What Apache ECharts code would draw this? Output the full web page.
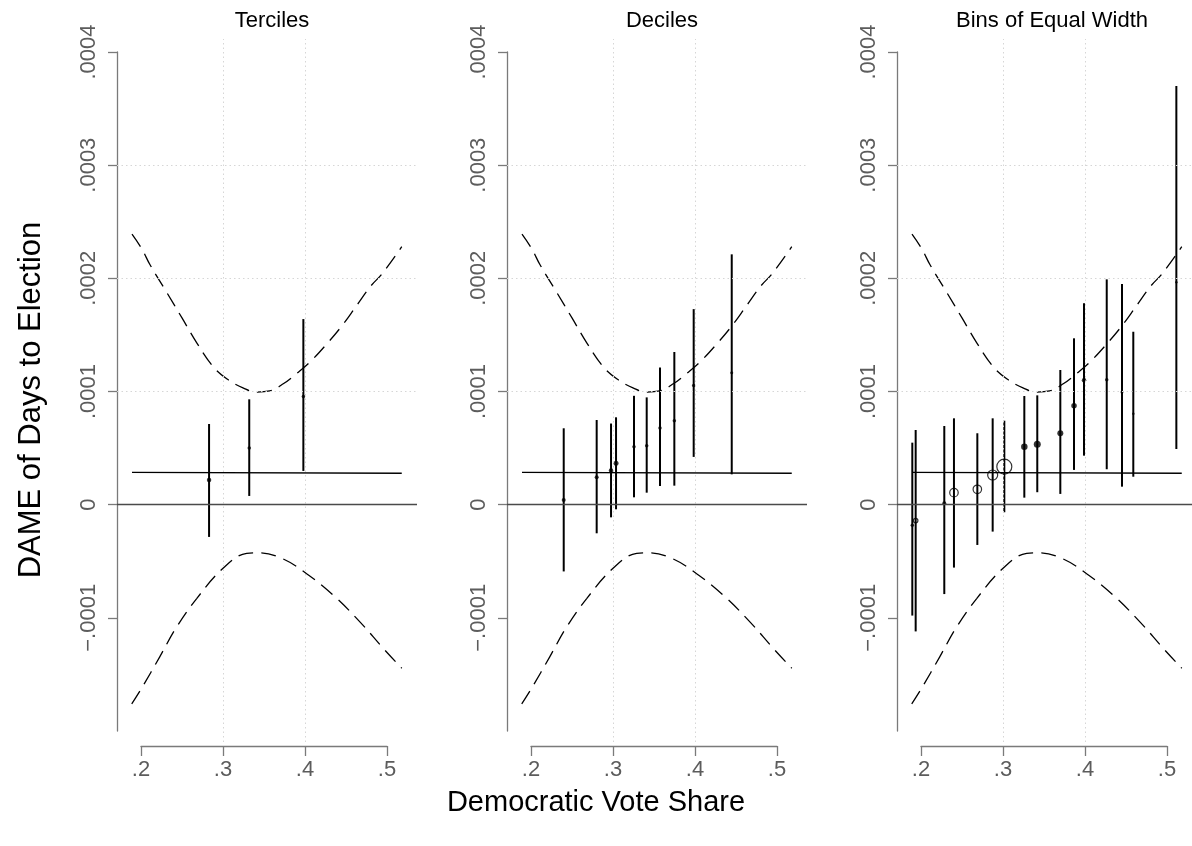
<!DOCTYPE html>
<html>
<head>
<meta charset="utf-8">
<title>DAME of Days to Election</title>
<style>
  html, body { margin: 0; padding: 0; background: #fff; }
  #main { width: 1192px; height: 846px; }
</style>
<script src="https://cdn.jsdelivr.net/npm/echarts@6/dist/echarts.min.js"></script>
</head>
<body>
<div id="main"></div>
<script>
// all effect values are in units of 0.0001 (the tick labels show the real scale)

const panelTitles = ['Terciles', 'Deciles', 'Bins of Equal Width'];
const xTicks = [0.2, 0.3, 0.4, 0.5];
const xTickLabels = ['.2', '.3', '.4', '.5'];
const yTicks = [-1, 0, 1, 2, 3, 4];
const yTickLabels = ['\u2212.0001', '0', '.0001', '.0002', '.0003', '.0004'];
const xGrid = [0.3, 0.4];
const yGrid = [1, 2, 3];

// linear marginal effect (solid) and its 95% band (dashed)
const fitX = [0.189, 0.518];
const fitY = [0.285, 0.277];
const upperX = [0.189, 0.201, 0.211, 0.231, 0.250, 0.268, 0.288, 0.305, 0.325, 0.341, 0.357, 0.374, 0.390, 0.406, 0.4265, 0.445, 0.463, 0.480, 0.494, 0.518];
const upperY = [2.39, 2.26, 2.12, 1.88, 1.65, 1.43, 1.22, 1.11, 1.03, 0.995, 1.005, 1.07, 1.16, 1.26, 1.42, 1.58, 1.76, 1.93, 2.04, 2.28];
const lowerX = [0.1887, 0.2009, 0.2232, 0.2435, 0.2679, 0.3004, 0.3289, 0.343, 0.3716, 0.402, 0.4345, 0.4675, 0.4955, 0.518];
const lowerY = [-1.76, -1.62, -1.34, -1.08, -0.83, -0.56, -0.43, -0.425, -0.474, -0.61, -0.80, -1.04, -1.27, -1.445];

// binned estimates
const tercX  = [0.283, 0.332, 0.398];
const tercPt = [0.218, 0.501, 0.955];
const tercLo = [-0.285, 0.077, 0.298];
const tercHi = [0.713, 0.931, 1.64];

const decX  = [0.2399, 0.2801, 0.2976, 0.3037, 0.3256, 0.3411, 0.3573, 0.3748, 0.3984, 0.4448];
const decPt = [0.042, 0.242, 0.301, 0.366, 0.512, 0.521, 0.678, 0.742, 1.053, 1.166];
const decLo = [-0.59, -0.253, -0.112, -0.041, 0.065, 0.106, 0.165, 0.168, 0.422, 0.268];
const decHi = [0.675, 0.748, 0.717, 0.772, 0.962, 0.948, 1.212, 1.349, 1.728, 2.212];

const binX  = [0.1894, 0.1935, 0.2284, 0.2402, 0.2687, 0.2874, 0.3016, 0.326, 0.3418, 0.3699, 0.3866, 0.3988, 0.4265, 0.4451, 0.4589, 0.5114];
const binPt = [-0.182, -0.141, 0.012, 0.106, 0.136, 0.262, 0.336, 0.512, 0.534, 0.631, 0.875, 1.099, 1.104, 0.996, 0.804, 1.965];
const binLo = [-0.98, -1.12, -0.79, -0.556, -0.356, -0.238, -0.067, 0.062, 0.110, 0.095, 0.307, 0.433, 0.313, 0.159, 0.247, 0.492];
const binHi = [0.548, 0.660, 0.695, 0.763, 0.631, 0.763, 0.742, 0.960, 0.966, 1.190, 1.470, 1.78, 1.991, 1.950, 1.528, 3.699];

// marker look per point
const tercMarkerSize = [4.5, 3.5, 3.5];
const decMarkerSize  = [4, 4, 4.5, 5, 3.5, 3.5, 3.5, 3.5, 3.5, 3];
const binMarkerSize  = [3.5, 4.5, 4, 8.5, 8.5, 10, 15, 6.5, 7, 6, 5.5, 4.5, 3.5, 3, 2.5, 2.5];
const binHollow      = [false, true, false, true, true, true, true, false, false, false, false, false, false, false, false, false];

// ---- layout (pixels) ----
const FONT = 'Liberation Sans, Arial, Helvetica, sans-serif';
const PANEL_DX = 390;
const PLOT_LEFT = 117, PLOT_W = 300, PLOT_TOP = 39, PLOT_BOTTOM = 742;
const X02 = 141, X05 = 387;          // where .2 and .5 sit
const Y_TOP = 52, Y_BOTTOM = 731;    // where .0004 and -.0002 sit
const X_AXIS_Y = 746;

const pxPerX = (X05 - X02) / 0.3;
const pxPerY = (Y_BOTTOM - Y_TOP) / 6;
const dataXMin = 0.2 - (X02 - PLOT_LEFT) / pxPerX;
const dataXMax = dataXMin + PLOT_W / pxPerX;
const dataYMax = 4 + (Y_TOP - PLOT_TOP) / pxPerY;
const dataYMin = -2 - (PLOT_BOTTOM - Y_BOTTOM) / pxPerY;

const AXIS_GRAY = '#7a7a7a';
const LABEL_GRAY = '#5c5c5c';

const panels = [
  {x: tercX, pt: tercPt, lo: tercLo, hi: tercHi, size: tercMarkerSize, hollow: tercX.map(() => false)},
  {x: decX, pt: decPt, lo: decLo, hi: decHi, size: decMarkerSize, hollow: decX.map(() => false)},
  {x: binX, pt: binPt, lo: binLo, hi: binHi, size: binMarkerSize, hollow: binHollow}
];

const zip = (a, b) => a.map((v, i) => [v, b[i]]);

const grid = [], xAxis = [], yAxis = [], series = [], title = [];

panels.forEach((p, k) => {
  const dx = k * PANEL_DX;
  const g0 = k * 3;   // data grid, x-axis grid, y-axis grid

  // data area
  grid.push({left: PLOT_LEFT + dx, top: PLOT_TOP, width: PLOT_W, height: PLOT_BOTTOM - PLOT_TOP, outerBoundsMode: 'none'});
  xAxis.push({gridIndex: g0, type: 'value', min: dataXMin, max: dataXMax, show: false});
  yAxis.push({gridIndex: g0, type: 'value', min: dataYMin, max: dataYMax, show: false});

  // bottom axis, drawn only from .2 to .5 like the original
  grid.push({left: X02 + dx, width: X05 - X02, top: X_AXIS_Y - 10, height: 10, outerBoundsMode: 'none'});
  xAxis.push({
    gridIndex: g0 + 1, type: 'value', min: 0.2, max: 0.5, interval: 0.1,
    axisLine: {show: true, lineStyle: {color: AXIS_GRAY, width: 1.3}},
    axisTick: {show: true, length: 10, lineStyle: {color: AXIS_GRAY, width: 1.3}},
    axisLabel: {
      margin: 13, color: LABEL_GRAY, fontSize: 22, fontFamily: FONT,
      formatter: v => xTickLabels[xTicks.findIndex(t => Math.abs(t - v) < 1e-6)] || ''
    },
    splitLine: {show: false}
  });
  yAxis.push({gridIndex: g0 + 1, type: 'value', show: false});

  // left axis, from -.0002 to .0004
  grid.push({left: PLOT_LEFT + dx, width: 10, top: Y_TOP, height: Y_BOTTOM - Y_TOP, outerBoundsMode: 'none'});
  xAxis.push({gridIndex: g0 + 2, type: 'value', show: false});
  yAxis.push({
    gridIndex: g0 + 2, type: 'value', min: -2, max: 4, interval: 1,
    axisLine: {show: true, lineStyle: {color: AXIS_GRAY, width: 1.3}},
    axisTick: {show: true, length: 9, customValues: yTicks, lineStyle: {color: AXIS_GRAY, width: 1.3}},
    axisLabel: {
      customValues: yTicks, rotate: 90, margin: 17, color: LABEL_GRAY, fontSize: 22, fontFamily: FONT,
      formatter: v => yTickLabels[yTicks.indexOf(Math.round(v))] || ''
    },
    splitLine: {show: false}
  });

  title.push({
    text: panelTitles[k], left: PLOT_LEFT + dx + PLOT_W / 2, top: 5, textAlign: 'center',
    textStyle: {fontSize: 22, fontWeight: 'normal', color: '#000', fontFamily: FONT}
  });

  // gridlines + zero line
  series.push({
    type: 'line', xAxisIndex: g0, yAxisIndex: g0, data: [], silent: true, z: 1,
    markLine: {
      silent: true, symbol: 'none', label: {show: false}, animation: false,
      lineStyle: {color: '#d6d6d6', width: 1, type: [1.5, 3]},
      data: xGrid.map(v => ({xAxis: v})).concat(yGrid.map(v => ({yAxis: v})))
        .concat([{yAxis: 0, lineStyle: {color: '#4a4a4a', width: 1.4, type: 'solid'}}])
    }
  });

  // confidence band
  [zip(upperX, upperY), zip(lowerX, lowerY)].forEach(d => {
    series.push({
      type: 'line', xAxisIndex: g0, yAxisIndex: g0, data: d, smooth: 0.4,
      showSymbol: false, silent: true, z: 2,
      lineStyle: {color: '#000', width: 1.3, type: [15, 8]}
    });
  });

  // fitted effect
  series.push({
    type: 'line', xAxisIndex: g0, yAxisIndex: g0, data: zip(fitX, fitY),
    showSymbol: false, silent: true, z: 2,
    lineStyle: {color: '#000', width: 1.4}
  });

  // error bars
  series.push({
    type: 'custom', xAxisIndex: g0, yAxisIndex: g0, z: 3, silent: true,
    data: p.x.map((v, i) => [v, p.lo[i], p.hi[i]]),
    encode: {x: 0, y: [1, 2]},
    renderItem: (params, api) => {
      const a = api.coord([api.value(0), api.value(1)]);
      const b = api.coord([api.value(0), api.value(2)]);
      return {type: 'line', shape: {x1: a[0], y1: a[1], x2: b[0], y2: b[1]}, style: {stroke: '#000', lineWidth: 2}};
    }
  });

  // point estimates
  series.push({
    type: 'scatter', xAxisIndex: g0, yAxisIndex: g0, z: 4, silent: true,
    symbol: 'circle',
    data: p.x.map((v, i) => ({
      value: [v, p.pt[i]],
      symbolSize: p.size[i],
      itemStyle: p.hollow[i]
        ? {color: 'rgba(255,255,255,0)', borderColor: '#000', borderWidth: 1.2}
        : {color: '#000', borderWidth: 0}
    }))
  });
});

const chart = echarts.init(document.getElementById('main'), null, {renderer: 'canvas'});
chart.setOption({
  animation: false,
  backgroundColor: '#fff',
  title: title,
  grid: grid,
  xAxis: xAxis,
  yAxis: yAxis,
  series: series,
  graphic: [
    {
      type: 'text', x: 31, y: 400, rotation: Math.PI / 2,
      style: {text: 'DAME of Days to Election', fontSize: 31, fontFamily: FONT, fill: '#000', align: 'center', verticalAlign: 'middle'}
    },
    {
      type: 'text', x: 596, y: 803,
      style: {text: 'Democratic Vote Share', fontSize: 29, fontFamily: FONT, fill: '#000', align: 'center', verticalAlign: 'middle'}
    }
  ]
});
</script>
</body>
</html>
